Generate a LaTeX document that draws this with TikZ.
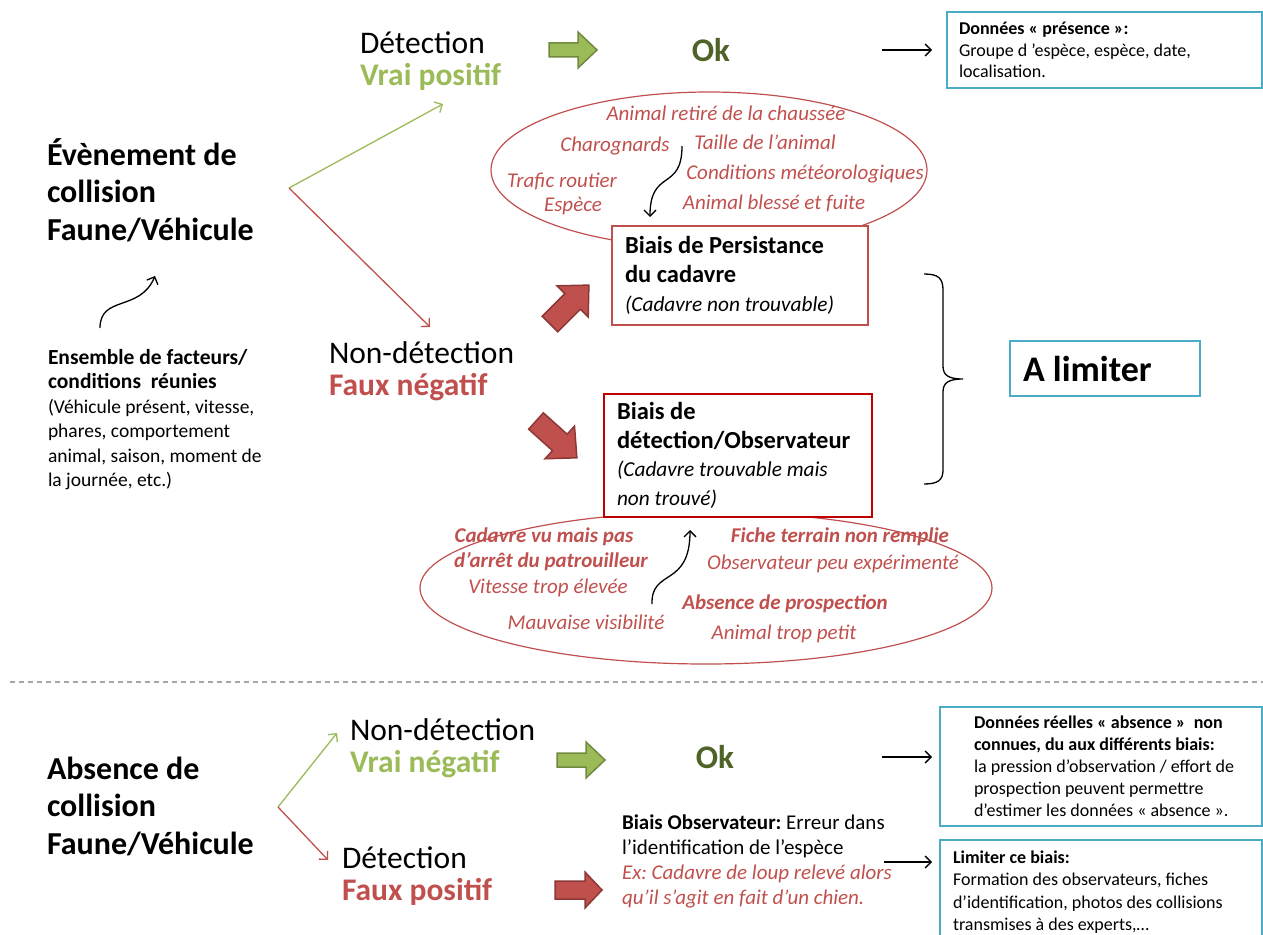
\documentclass[tikz,border=0pt]{standalone}
\usepackage{fontspec}
\setmainfont{Carlito}
\usetikzlibrary{arrows.meta,shapes.geometric,calc}
\definecolor{cgreen}{HTML}{9BBB59}
\definecolor{cgreenb}{HTML}{71893F}
\definecolor{cdkgreen}{HTML}{4F6228}
\definecolor{cred}{HTML}{C0504D}
\definecolor{credb}{HTML}{8C3836}
\definecolor{cdkred}{HTML}{C00000}
\definecolor{cblue}{HTML}{4BACC6}
\definecolor{cgray}{HTML}{A6A6A6}
\tikzset{
  hblk/.pic={\path[pic actions] (0,-7) -- (29,-7) -- (29,-18) -- (48,0) -- (29,18) -- (29,7) -- (0,7) -- cycle;},
  hrblk/.pic={\path[pic actions] (0,-9) -- (30,-9) -- (30,-18) -- (47,0) -- (30,18) -- (30,9) -- (0,9) -- cycle;},
  dblk/.pic={\path[pic actions] (0,-11) -- (32,-11) -- (32,-22) -- (55,0) -- (32,22) -- (32,11) -- (0,11) -- cycle;},
}
\frenchspacing
\begin{document}
\frenchspacing
\begin{tikzpicture}[x=1pt,y=-1pt,
  every node/.style={inner sep=0pt, outer sep=0pt},
  big/.style={font=\fontsize{32}{37.5}\selectfont\bfseries, align=left, anchor=west},
  mid/.style={font=\fontsize{31.5}{32.5}\selectfont, align=left, anchor=west},
  body/.style={font=\fontsize{18}{21.5}\selectfont, align=flush left},
  oktxt/.style={font=\fontsize{33}{36}\selectfont\bfseries, text=cdkgreen},
  rit/.style={font=\fontsize{21}{24}\selectfont\itshape, text=cred},
  rbit/.style={font=\fontsize{21}{24}\selectfont\bfseries\itshape, text=cred},
  bluebox/.style={draw=cblue, line width=1.5pt, fill=white, anchor=north west, align=flush left},
  redbox/.style={draw=cred, line width=2pt, fill=white, anchor=north west, inner xsep=13pt, align=flush left},
  ell/.style={ellipse, draw=cred, line width=1.2pt},
  thin/.style={line width=1.3pt, -{Straight Barb[length=6pt,width=12pt]}},
  curly/.style={line width=1.3pt, -{Straight Barb[length=6pt,width=12pt]}},
  garrow/.style={fill=cgreen, draw=cgreenb, line width=1.5pt},
  rarrow/.style={fill=cred, draw=credb, line width=1.5pt},
]
\useasboundingbox (0,0) rectangle (1263,934);

% ---------- top section ----------
\node[big] (ev1) at (47,190) {Évènement de\\collision\\Faune/Véhicule};
\coordinate (fork1) at (289,188);
\coordinate (vp) at (443,104);
\coordinate (fn) at (430,327);
\node[mid] (det1) at (360,61) {Détection\\\textcolor{cgreen}{\bfseries Vrai positif}};
\node[mid] (nd1) at (329,371) {Non-détection\\\textcolor{cred}{\bfseries Faux négatif}};
\draw[thin, cgreen] (fork1) -- (vp);
\draw[thin, cred] (fork1) -- (fn);

\pic[garrow] at (549,50) {hblk};
\node[oktxt] (ok1) at (711,50) {Ok};
\node[bluebox, body, inner xsep=12pt, text width=291pt, minimum height=76pt] (box1) at (947,12)
  {\textbf{Données « présence »:}\\Groupe d ’espèce, espèce, date,\\localisation.};
\coordinate (a1s) at (882,50);
\coordinate (a1e) at (932,50);
\draw[thin] (a1s) -- (a1e);

% left factors
\coordinate (c0s) at (100,328);
\coordinate (c0e) at (155,276);
\draw[curly] (c0s) .. controls (100,295) and (140,312) .. (c0e);
\node[anchor=north west, align=left, font=\fontsize{19.5}{24.5}\selectfont] (ens) at (48,349)
  {{\fontsize{21.5}{24.5}\selectfont\bfseries Ensemble de facteurs/}\\{\fontsize{21.5}{24.5}\selectfont\bfseries conditions\ \ réunies}\\(Véhicule présent, vitesse,\\phares, comportement\\animal, saison, moment de\\la journée, etc.)};

% top ellipse
\node[ell, minimum width=436pt, minimum height=156pt] (ell1) at (709,170) {};
\node[rit] (t1) at (726,113) {Animal retiré de la chaussée};
\node[rit] (t2) at (615,146) {Charognards};
\node[rit] (t3) at (765,142) {Taille de l’animal};
\node[rit] (t4) at (562,181) {Trafic routier};
\node[rit] (t5) at (805,174) {Conditions météorologiques};
\node[rit] (t6) at (573,206) {Espèce};
\node[rit] (t7) at (774,203) {Animal blessé et fuite};
\coordinate (c1s) at (682,146);
\coordinate (c1e) at (650,217);
\draw[curly] (c1s) .. controls (682,192) and (650,168) .. (c1e);

% bottom ellipse
\node[ell, minimum width=572pt, minimum height=152pt] (ell2) at (706,588) {};
\node[rbit] (u1) at (544,537) {Cadavre vu mais pas};
\node[rbit] (u2) at (551,562) {d’arrêt du patrouilleur};
\node[rit] (u3) at (548,588) {Vitesse trop élevée};
\node[rit] (u4) at (586,622) {Mauvaise visibilité};
\node[rbit] (u5) at (840,537) {Fiche terrain non remplie};
\node[rit] (u6) at (833,564) {Observateur peu expérimenté};
\node[rbit] (u7) at (785,604) {Absence de prospection};
\node[rit] (u8) at (784,634) {Animal trop petit};
\coordinate (c2s) at (652,604);
\coordinate (c2e) at (690,530);
\draw[curly] (c2s) .. controls (651,568) and (690,588) .. (c2e);

% bias boxes
\node[redbox, text width=230pt, minimum height=99pt, font=\fontsize{24.5}{29}\selectfont] (box2) at (612,226)
  {\textbf{Biais de Persistance}\\\textbf{du cadavre}\\{\fontsize{21.3}{29}\selectfont\itshape (Cadavre non trouvable)}};
\node[redbox, draw=cdkred, text width=242pt, minimum height=123pt, font=\fontsize{24.5}{28.5}\selectfont] (box3) at (604,394)
  {\textbf{Biais de}\\\textbf{détection/Observateur}\\{\fontsize{21.3}{28}\selectfont\itshape (Cadavre trouvable mais}\\{\fontsize{21.3}{24}\selectfont\itshape non trouvé)}};
\pic[rarrow, rotate=45] at (550,324) {dblk};
\pic[rarrow, rotate=-42] at (536,421) {dblk};

% brace and A limiter
\draw[line width=1.3pt] (924,274) .. controls (938,274) and (943,278) .. (943,290)
  -- (943,366) .. controls (943,375) and (948,379) .. (963,379)
  .. controls (948,379) and (943,383) .. (943,392)
  -- (943,470) .. controls (943,480) and (938,484) .. (924,484);
\node[bluebox, inner xsep=13pt, text width=164pt, minimum height=55pt, font=\fontsize{36}{38}\selectfont\bfseries] (lim) at (1010,341) {A limiter};

% separator
\coordinate (dl) at (10,682);
\coordinate (dr) at (1263,682);
\draw[cgray, line width=1.3pt, dash pattern=on 5pt off 4pt] (dl) -- (dr);

% ---------- bottom section ----------
\node[big] (ev2) at (47,806) {Absence de\\collision\\Faune/Véhicule};
\coordinate (fork2) at (278,807);
\coordinate (vn) at (337,733);
\coordinate (fp) at (328,860);
\draw[thin, cgreen] (fork2) -- (vn);
\draw[thin, cred] (fork2) -- (fp);
\node[mid] (nd2) at (350,748) {Non-détection\\\textcolor{cgreen}{\bfseries Vrai négatif}};
\node[mid] (det2) at (342,876) {Détection\\\textcolor{cred}{\bfseries Faux positif}};

\pic[garrow] at (557,760) {hblk};
\node[oktxt] (ok2) at (715,757) {Ok};
\coordinate (a2s) at (882,757);
\coordinate (a2e) at (932,757);
\draw[thin] (a2s) -- (a2e);
\node[bluebox, minimum width=322pt, minimum height=119pt] (box4) at (940,707) {};
\node[anchor=west, align=left, font=\fontsize{18}{22}\selectfont] (box4t) at (974,766.5)
  {\textbf{Données réelles « absence »\ \ non}\\\textbf{connues, du aux différents biais:}\\la pression d’observation / effort de\\prospection peuvent permettre\\d’estimer les données « absence ».};

\pic[rarrow] at (555,890) {hrblk};
\node[anchor=north west, align=left, font=\fontsize{21}{25}\selectfont] (bo) at (622,815)
  {\textbf{Biais Observateur:} Erreur dans\\l’identification de l’espèce\\\textcolor{cred}{\itshape Ex: Cadavre de loup relevé alors}\\\textcolor{cred}{\itshape qu’il s’agit en fait d’un chien.}};
\coordinate (a3s) at (884,862);
\coordinate (a3e) at (932,862);
\draw[thin] (a3s) -- (a3e);
\node[bluebox, body, inner xsep=13pt, text width=296pt, minimum height=104pt, font=\fontsize{18}{22.5}\selectfont] (box5) at (940,840)
  {\textbf{Limiter ce biais:}\\Formation des observateurs, fiches\\d’identification, photos des collisions\\transmises à des experts,…};
\end{tikzpicture}
\end{document}
